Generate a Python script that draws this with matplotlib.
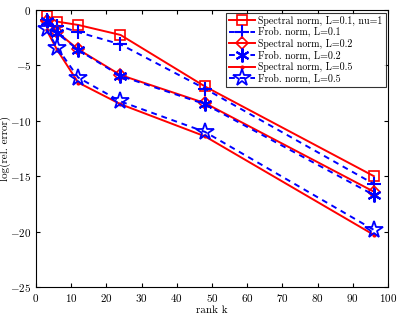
import matplotlib
matplotlib.use("Agg")
import matplotlib.pyplot as plt

plt.rcParams['font.family'] = ['cmr10', 'DejaVu Serif']
plt.rcParams['axes.formatter.use_mathtext'] = True
plt.rcParams['mathtext.fontset'] = 'cm'

ranks = [3, 6, 12, 24, 48, 96]
spec_01 = [-0.5, -1.05, -1.35, -2.25, -6.9, -15.0]
frob_01 = [-0.9, -1.4, -2.0, -3.1, -7.1, -15.7]
spec_02 = [-0.95, -2.0, -3.55, -5.87, -8.4, -16.4]
frob_02 = [-1.0, -2.1, -3.6, -5.95, -8.5, -16.7]
spec_05 = [-1.8, -3.6, -6.55, -8.5, -11.4, -20.3]
frob_05 = [-1.75, -3.4, -6.1, -8.25, -11.0, -19.85]

labels = ["Spectral norm, L=0.1, nu=1", "Frob. norm, L=0.1",
          "Spectral norm, L=0.2", "Frob. norm, L=0.2",
          "Spectral norm, L=0.5", "Frob. norm, L=0.5"]

fig = plt.figure(figsize=(3.99, 3.14), dpi=100)
ax = fig.add_axes([36/399, 1 - 287/314, (388-36)/399, (287-10)/314])

lw = 1.4
ax.plot(ranks, spec_01, color='r', lw=lw, marker='s', ms=6.5, mfc='none', mec='r', mew=1.2, label=labels[0])
ax.plot(ranks, frob_01, color='b', lw=lw, ls=(0, (3, 2.5)), marker='+', ms=10, mew=1.5, label=labels[1])
ax.plot(ranks, spec_02, color='r', lw=lw, marker='D', ms=6.5, mfc='none', mec='r', mew=1.2, label=labels[2])
ax.plot(ranks, frob_02, color='b', lw=lw, ls=(0, (3, 2.5)), marker=(6, 2, 0), ms=10, mew=1.5, label=labels[3])
ax.plot(ranks, spec_05, color='r', lw=lw, marker='.', ms=4, label=labels[4])
ax.plot(ranks, frob_05, color='b', lw=lw, ls=(0, (3, 2.5)), marker='*', ms=13, mfc='none', mec='b', mew=1.3, label=labels[5])

ax.set_xlim(0, 100)
ax.set_ylim(-25, 0)
ax.set_xticks(range(0, 101, 10))
ax.set_yticks(range(-25, 1, 5))
ax.tick_params(direction='in', top=True, right=True, labelsize=8, length=3)
ax.set_xlabel("rank k", fontsize=8, labelpad=1)
ax.set_ylabel("log(rel. error)", fontsize=8)
ax.yaxis.set_label_coords(-0.072, 0.5)

leg = ax.legend(loc='upper right', fontsize=7.2, frameon=True, fancybox=False,
                edgecolor='k', borderpad=0.3, labelspacing=0.15, handlelength=2.6,
                handletextpad=0.3, borderaxespad=0.25)
leg.get_frame().set_linewidth(0.8)

fig.savefig("out.png", dpi=100)
